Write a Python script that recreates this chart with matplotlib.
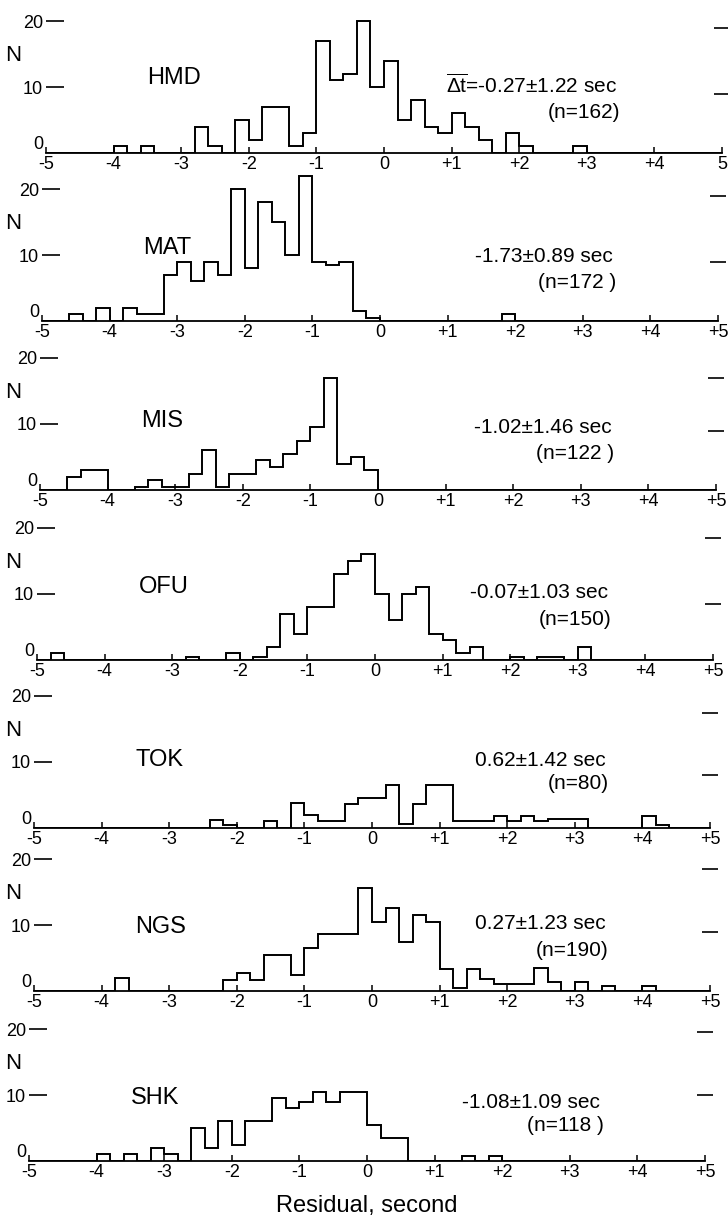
import numpy as np
import matplotlib
matplotlib.use("Agg")
import matplotlib.pyplot as plt

plt.rcParams['font.family'] = ['Liberation Sans Narrow', 'Liberation Sans', 'DejaVu Sans']
plt.rcParams['mathtext.fontset'] = 'custom'
plt.rcParams['mathtext.rm'] = 'Liberation Sans'
plt.rcParams['mathtext.it'] = 'Liberation Sans:italic'

# residual bins, 0.2 s wide, from -5 to +5 s
edges = np.round(np.arange(-5.0, 5.0001, 0.2), 1)

stations = ["HMD", "MAT", "MIS", "OFU", "TOK", "NGS", "SHK"]
mean_sd = ["-0.27\u00b11.22 sec", "-1.73\u00b10.89 sec", "-1.02\u00b11.46 sec", "-0.07\u00b11.03 sec",
           "0.62\u00b11.42 sec", "0.27\u00b11.23 sec", "-1.08\u00b11.09 sec"]
n_labels = ["(n=162)", "(n=172 )", "(n=122 )", "(n=150)", "(n=80)", "(n=190)", "(n=118 )"]

#                0  1  2  3  4  5  6  7  8  9 10 11 12 13 14 15 16 17 18 19 20 21 22 23 24 25 26 27 28 29 30 31 32 33 34 35 36 37 38 39 40 41 42 43 44 45 46 47 48 49
hmd = np.array([0, 0, 0, 0, 0, 1, 0, 1, 0, 0, 0, 4, 1, 0, 5, 2, 7, 7, 1, 3, 17, 11, 12, 20, 10, 14, 5, 8, 4, 3, 6, 4, 2, 0, 3, 1, 0, 0, 0, 1, 0, 0, 0, 0, 0, 0, 0, 0, 0, 0])
mat = np.array([0, 0, 1, 0, 2, 0, 2, 1, 1, 7, 9, 6, 9, 7, 20, 8, 18, 15, 10, 22, 9, 8.5, 9, 1.5, 0.5, 0, 0, 0, 0, 0, 0, 0, 0, 0, 1, 0, 0, 0, 0, 0, 0, 0, 0, 0, 0, 0, 0, 0, 0, 0])
mis = np.array([0, 0, 2, 3, 3, 0, 0, 0.5, 1.5, 0.5, 0.5, 2.5, 6, 0.5, 2.5, 2.5, 4.5, 3.5, 5.5, 7.5, 9.5, 17, 4, 5, 3, 0, 0, 0, 0, 0, 0, 0, 0, 0, 0, 0, 0, 0, 0, 0, 0, 0, 0, 0, 0, 0, 0, 0, 0, 0])
ofu = np.array([0, 1, 0, 0, 0, 0, 0, 0, 0, 0, 0, 0.5, 0, 0, 1, 0, 0.5, 2, 7, 4, 8, 8, 13, 15, 16, 10, 6, 10, 11, 4, 3, 1, 2, 0, 0, 0.5, 0, 0.5, 0.5, 0, 2, 0, 0, 0, 0, 0, 0, 0, 0, 0])
tok = np.array([0, 0, 0, 0, 0, 0, 0, 0, 0, 0, 0, 0, 0, 1.2, 0.4, 0, 0, 1, 0, 3.8, 1.9, 1, 1, 3.7, 4.6, 4.6, 6.5, 0.6, 3.6, 6.5, 6.5, 1, 1, 1, 1.8, 1, 1.8, 1, 1.4, 1.4, 1.4, 0, 0, 0, 0, 1.8, 0.5, 0, 0, 0])
ngs = np.array([0, 0, 0, 0, 0, 0, 2, 0, 0, 0, 0, 0, 0, 0, 1.6, 2.7, 1.6, 5.4, 5.4, 2.5, 6.5, 8.6, 8.6, 8.6, 15.6, 10.5, 12.6, 7.5, 11.5, 10.5, 3.3, 0.5, 3.3, 1.8, 1, 1, 1, 3.5, 1.3, 0, 1.3, 0, 0.7, 0, 0, 0.7, 0, 0, 0, 0])
shk = np.array([0, 0, 0, 0, 0, 1, 0, 1, 0, 2, 1, 0, 5, 2, 6, 2.5, 6, 6, 9.5, 8, 9, 10.5, 9, 10.5, 10.5, 5.5, 3.5, 3.5, 0, 0, 0, 0, 0.7, 0, 0.7, 0, 0, 0, 0, 0, 0, 0, 0, 0, 0, 0, 0, 0, 0, 0])
counts = [hmd, mat, mis, ofu, tok, ngs, shk]

xticks = np.arange(-5, 6)
xtick_text = ["-5", "-4", "-3", "-2", "-1", "0", "+1", "+2", "+3", "+4", "+5"]

# page layout in pixels (728 x 1223)
W, H = 728, 1223
zero_px = [384, 380, 378, 375, 372, 372, 367]      # x pixel of residual 0
base_px = [153, 321, 490, 660, 828, 991, 1161]     # y pixel of N = 0
unit_px = 67.6                                      # pixels per second
count_px = 6.6                                      # pixels per count
ytop = 23
right_marks = [(19, 9), (19, 9), (17, 9), (18.5, 8.5), (17.5, 8), (18.5, 9), (19.5, 10)]
# label heights above the axis, in counts
name_y = [11.4, 11.1, 10.5, 11.1, 10.3, 9.7, 9.5]
stat_y = [10.3, 9.7, 9.4, 10.3, 10.3, 10.3, 8.8]
n_y = [6.1, 5.9, 5.5, 6.2, 6.8, 6.2, 5.4]

fig = plt.figure(figsize=(W / 100, H / 100), dpi=100)

for i, name in enumerate(stations):
    left_px = zero_px[i] - 5 * unit_px
    ax = fig.add_axes([left_px / W, 1 - base_px[i] / H, 10 * unit_px / W, ytop * count_px / H])
    ax.patch.set_visible(False)

    ax.stairs(counts[i], edges, baseline=0, color="black", lw=1.4)

    ax.set_xlim(-5, 5)
    ax.set_ylim(0, ytop)
    for s in ("top", "right", "left"):
        ax.spines[s].set_visible(False)
    ax.spines["bottom"].set_linewidth(1.3)

    ax.set_xticks(xticks)
    labels = list(xtick_text)
    if i == 0:
        labels[-1] = "5"
    ax.set_xticklabels(labels)
    ax.tick_params(axis="x", direction="in", length=4, width=1.1, pad=2, labelsize=13)

    ax.set_yticks([0, 10, 20])
    ax.set_yticklabels(["0", "10", "20"])
    ax.tick_params(axis="y", direction="in", length=13, width=1.2, pad=2, labelsize=13)
    ax.yaxis.get_major_ticks()[0].tick1line.set_visible(False)
    ax.get_yticklabels()[0].set_verticalalignment("bottom")

    sec = ax.secondary_yaxis("right")
    sec.set_yticks(list(right_marks[i]))
    sec.set_yticklabels([])
    sec.tick_params(direction="inout", length=12, width=1.2)
    sec.spines["right"].set_visible(False)

    # "N" sits at a fixed distance from the page edge
    ax.text(-5 - (left_px - 13) / unit_px, 14.7, "N", fontsize=16, ha="center", va="center")
    ax.text(-3.5, name_y[i], name, fontsize=17, ha="left", va="center")
    stat = mean_sd[i]
    if i == 0:
        stat = r"$\overline{\mathit{\Delta}\mathrm{t}}$=" + stat
    ax.text(3.45, stat_y[i], stat, fontsize=15, ha="right", va="center")
    ax.text(3.5, n_y[i], n_labels[i], fontsize=15, ha="right", va="center")

    if i == len(stations) - 1:
        ax.set_xlabel("Residual, second", fontsize=17, labelpad=10)

fig.savefig("out.png", dpi=100)
